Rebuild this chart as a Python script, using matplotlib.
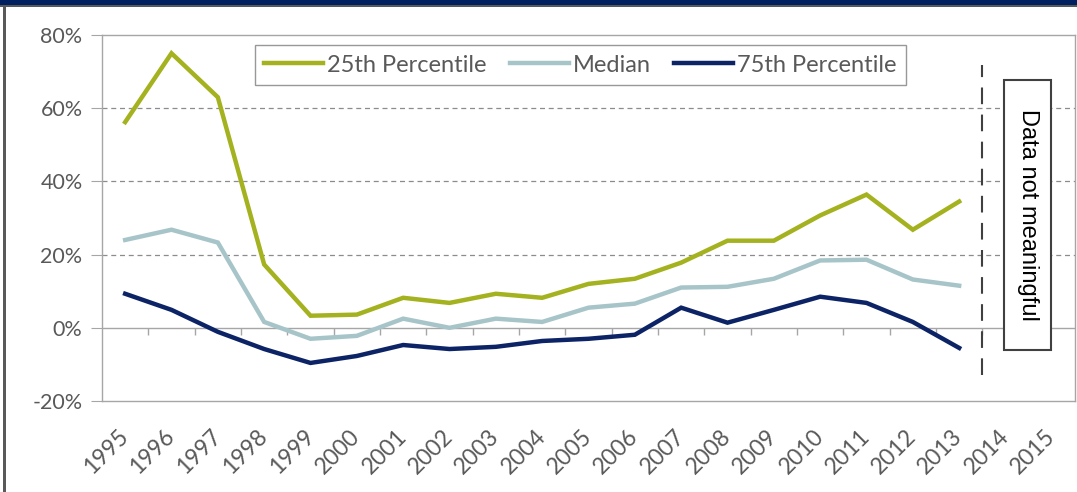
import matplotlib
matplotlib.use("Agg")
import matplotlib.pyplot as plt
from matplotlib.patches import Rectangle
import numpy as np

years = [str(y) for y in range(1995, 2016)]
data_years = list(range(1995, 2014))
p25 = [56.2, 75.0, 63.0, 17.3, 3.3, 3.6, 8.2, 6.8, 9.3, 8.2, 12.0, 13.4, 17.8, 23.8, 23.8, 30.7, 36.4, 26.8, 34.5]
median = [24.0, 26.8, 23.3, 1.6, -3.0, -2.2, 2.5, 0.0, 2.5, 1.6, 5.5, 6.6, 11.0, 11.2, 13.4, 18.4, 18.6, 13.2, 11.5]
p75 = [9.3, 4.9, -1.1, -5.8, -9.6, -7.7, -4.7, -5.8, -5.2, -3.6, -3.0, -1.9, 5.5, 1.4, 4.9, 8.5, 6.8, 1.6, -5.5]
series_names = ["25th Percentile", "Median", "75th Percentile"]
yticks = [-20, 0, 20, 40, 60, 80]
note_text = "Data not meaningful"

plt.rcParams['font.family'] = ['Lato', 'DejaVu Sans']
txt = '#595959'
grid_c = '#8c8c8c'

fig = plt.figure(figsize=(10.77, 4.92), dpi=100)
W, H = 1077, 492
ax = fig.add_axes([102 / W, 1 - 401 / H, 973 / W, 366 / H])

x = np.arange(len(data_years))
colors = ['#A3B21E', '#A7C5C9', '#0C2366']
for vals, c, name in zip([p25, median, p75], colors, series_names):
    ax.plot(x, vals, color=c, lw=3.2, label=name, solid_joinstyle='miter', zorder=3)

ax.set_xlim(-0.5, len(years) - 0.5)
ax.set_ylim(-20, 80)

# grid
for g in [20, 40, 60]:
    ax.axhline(g, color=grid_c, lw=0.9, ls=(0, (4, 3)), zorder=1)
ax.axhline(0, color='#a6a6a6', lw=1.0, zorder=1)
bounds = np.arange(0.5, len(years) - 0.5, 1)
ax.vlines(bounds, -1.9, 0, color='#a6a6a6', lw=1.0, zorder=1)

for s in ax.spines.values():
    s.set_color('#a6a6a6')
    s.set_linewidth(1.0)

ax.set_yticks(yticks)
ax.set_yticklabels([f"{v}%" for v in yticks], color=txt, fontsize=15.5)
ax.tick_params(axis='y', length=8, color='#a6a6a6', pad=6)
ax.set_xticks(np.arange(len(years)))
ax.set_xticklabels(years, rotation=45, ha='right', va='center', rotation_mode='anchor',
                   color=txt, fontsize=16.5)
ax.tick_params(axis='x', length=0, pad=23)

# boundary line
ax.vlines(len(data_years) - 0.5, -12.9, 71.8, color='#404040', lw=1.5, ls=(0, (8, 5)), zorder=2)

# note box
ax.add_patch(Rectangle((0.927, 0.139), 0.0483, 0.738, transform=ax.transAxes,
                       facecolor='white', edgecolor='#404040', lw=1.5, zorder=4))
ax.text(0.952, 0.508, note_text, transform=ax.transAxes, rotation=270,
        ha='center', va='center', fontsize=17, color='black', zorder=5,
        family=['Liberation Sans', 'DejaVu Sans'])

leg = ax.legend(ncol=3, loc='upper left', bbox_to_anchor=(0.157, 0.972), frameon=True,
                fancybox=False, fontsize=17, handlelength=2.5, handletextpad=0.15,
                columnspacing=1.0, borderpad=0.4, borderaxespad=0)
leg.get_frame().set_edgecolor('#7f7f7f')
leg.get_frame().set_linewidth(1.0)
for t in leg.get_texts():
    t.set_color(txt)

# figure frame decorations
fig.add_artist(Rectangle((0, 1 - 5 / H), 1, 5 / H, transform=fig.transFigure,
                         facecolor='#002060', edgecolor='none'))
fig.add_artist(Rectangle((0, 1 - 7 / H), 1, 2 / H, transform=fig.transFigure,
                         facecolor='#595959', edgecolor='none'))
fig.add_artist(Rectangle((3 / W, 0), 3 / W, 1 - 5 / H, transform=fig.transFigure,
                         facecolor='#595959', edgecolor='none'))

fig.savefig('out.png', dpi=100)
